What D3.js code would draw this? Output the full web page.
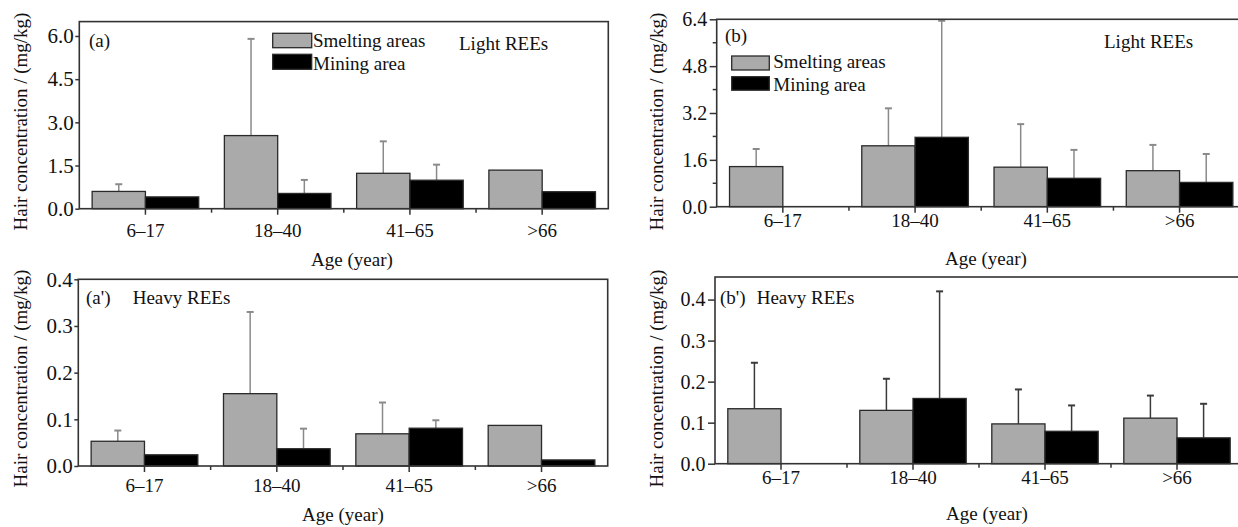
<!DOCTYPE html>
<html>
<head>
<meta charset="utf-8">
<script src="https://cdn.jsdelivr.net/npm/d3@7"></script>
<style>
  html, body { margin: 0; padding: 0; background: #fff; }
  svg { display: block; font-family: "Liberation Serif", "Times New Roman", serif; }
</style>
</head>
<body>
<svg id="chart" width="1238" height="527"></svg>
<script>
// Age groups shared by all four panels
const ageGroups = ["6–17", "18–40", "41–65", ">66"];
const seriesNames = ["Smelting areas", "Mining area"];

// (a) Light REEs, first survey: mean and standard deviation (mg/kg)
const lightSmeltingA = [0.60, 2.54, 1.23, 1.34];
const lightSmeltingASd = [0.25, 3.36, 1.11, null];
const lightMiningA = [0.41, 0.53, 0.99, 0.59];
const lightMiningASd = [null, 0.47, 0.54, null];

// (b) Light REEs, second survey
const lightSmeltingB = [1.37, 2.08, 1.35, 1.23];
const lightSmeltingBSd = [0.60, 1.28, 1.47, 0.88];
const lightMiningB = [null, 2.37, 0.97, 0.83];
const lightMiningBSd = [null, 3.98, 0.97, 0.97];

// (a') Heavy REEs, first survey
const heavySmeltingA = [0.053, 0.155, 0.069, 0.087];
const heavySmeltingASd = [0.023, 0.175, 0.067, null];
const heavyMiningA = [0.024, 0.037, 0.081, 0.013];
const heavyMiningASd = [null, 0.043, 0.017, null];

// (b') Heavy REEs, second survey
const heavySmeltingB = [0.134, 0.130, 0.097, 0.111];
const heavySmeltingBSd = [0.112, 0.077, 0.084, 0.055];
const heavyMiningB = [null, 0.159, 0.079, 0.063];
const heavyMiningBSd = [null, 0.261, 0.063, 0.083];

// Axis tick values
const ticksA = [0, 1.5, 3.0, 4.5, 6.0];
const ticksB = [0, 1.6, 3.2, 4.8, 6.4];
const minorTicksB = [0.8, 2.4, 4.0, 5.6];
const ticksHeavy = [0, 0.1, 0.2, 0.3, 0.4];

const svg = d3.select("#chart");
const FILL = { smelting: "#aaaaaa", mining: "#000000" };

function panel(cfg) {
  const g = svg.append("g");
  const x = d3.scaleBand().domain(ageGroups)
    .range([cfg.left, cfg.right]).paddingInner(0.194).paddingOuter(0.097);
  const xs = d3.scaleBand().domain(["smelting", "mining"]).range([0, x.bandwidth()]);
  const y = d3.scaleLinear().domain(cfg.domain).range([cfg.bottom, cfg.top]);

  const rows = [];
  ageGroups.forEach((a, i) => {
    rows.push({ age: a, key: "smelting", v: cfg.smelting[i], sd: cfg.smeltingSd[i] });
    rows.push({ age: a, key: "mining", v: cfg.mining[i], sd: cfg.miningSd[i] });
  });
  const present = rows.filter(d => d.v != null);

  // error bars (upper half only)
  const eb = g.append("g").attr("stroke", cfg.errColor).attr("stroke-width", 1.5);
  present.filter(d => d.sd != null).forEach(d => {
    const cx = x(d.age) + xs(d.key) + xs.bandwidth() / 2;
    const y1 = y(d.v + d.sd);
    eb.append("line").attr("x1", cx).attr("x2", cx).attr("y1", y(d.v)).attr("y2", y1);
    eb.append("line").attr("x1", cx - 3.5).attr("x2", cx + 3.5).attr("y1", y1).attr("y2", y1)
      .attr("stroke-width", 2);
  });

  // bars
  g.append("g").selectAll("rect").data(present).join("rect")
    .attr("x", d => x(d.age) + xs(d.key))
    .attr("width", xs.bandwidth())
    .attr("y", d => y(d.v))
    .attr("height", d => y(0) - y(d.v))
    .attr("fill", d => FILL[d.key])
    .attr("stroke", "#2a2a2a").attr("stroke-width", 1.3);

  // frame
  g.append("rect")
    .attr("x", cfg.left).attr("y", cfg.top)
    .attr("width", cfg.right - cfg.left).attr("height", cfg.bottom - cfg.top)
    .attr("fill", "none").attr("stroke", "#333").attr("stroke-width", 1.6);

  // y axis
  const ya = g.append("g").attr("transform", `translate(${cfg.left},0)`)
    .call(d3.axisLeft(y).tickValues(cfg.ticks).tickSize(cfg.tickLen)
      .tickPadding(cfg.tickPad).tickFormat(d3.format(".1f")));
  ya.select(".domain").remove();
  ya.selectAll("line").attr("stroke", "#333").attr("stroke-width", 1.5);
  ya.selectAll("text").attr("font-size", cfg.yTickFont).attr("fill", "#111")
    .style("font-family", "Liberation Serif, serif");
  if (cfg.minor) {
    g.append("g").selectAll("line").data(cfg.minor).join("line")
      .attr("x1", cfg.left - 4).attr("x2", cfg.left)
      .attr("y1", d => y(d)).attr("y2", d => y(d))
      .attr("stroke", "#333").attr("stroke-width", 1.5);
  }

  // x axis: major ticks at group centres, minor ticks between groups
  const xa = g.append("g").attr("transform", `translate(0,${cfg.bottom})`)
    .call(d3.axisBottom(x).tickSize(6).tickPadding(0));
  xa.select(".domain").remove();
  xa.selectAll("line").attr("stroke", "#333").attr("stroke-width", 1.5);
  xa.selectAll("text").attr("font-size", 19).attr("fill", "#111")
    .style("font-family", "Liberation Serif, serif")
    .attr("dy", null).attr("y", cfg.xTickBase - cfg.bottom);
  const bounds = ageGroups.slice(1).map(a => x(a) - x.step() * x.paddingInner() / 2);
  g.append("g").selectAll("line").data(bounds).join("line")
    .attr("x1", d => d).attr("x2", d => d)
    .attr("y1", cfg.bottom).attr("y2", cfg.bottom + 4)
    .attr("stroke", "#333").attr("stroke-width", 1.5);

  // axis titles
  g.append("text").attr("x", cfg.xLabel[0]).attr("y", cfg.xLabel[1])
    .attr("text-anchor", "middle").attr("font-size", 19).attr("fill", "#111")
    .text("Age (year)");
  g.append("text")
    .attr("transform", `translate(${cfg.yLabel[0]},${cfg.yLabel[1]}) rotate(-90)`)
    .attr("text-anchor", "middle").attr("font-size", 19).attr("fill", "#111")
    .text("Hair concentration / (mg/kg)");

  // panel tag and element group
  g.append("text").attr("x", cfg.tag[0]).attr("y", cfg.tag[1])
    .attr("font-size", 19).attr("fill", "#111").text(cfg.tagText);
  g.append("text").attr("x", cfg.title[0]).attr("y", cfg.title[1])
    .attr("font-size", 19).attr("fill", "#111").text(cfg.titleText);

  // legend
  if (cfg.legend) {
    const L = cfg.legend;
    ["smelting", "mining"].forEach((k, i) => {
      g.append("rect").attr("x", L.x).attr("y", L.rows[i][0])
        .attr("width", L.w).attr("height", L.rows[i][1])
        .attr("fill", FILL[k]).attr("stroke", "#2a2a2a").attr("stroke-width", 1.3);
      g.append("text").attr("x", L.tx).attr("y", L.base[i])
        .attr("font-size", 19).attr("fill", "#111").text(seriesNames[i]);
    });
  }
}

panel({
  left: 79.3, right: 608.3, top: 21.6, bottom: 208.7, domain: [0, 6.5],
  ticks: ticksA, tickLen: 4, tickPad: 1.5, yTickFont: 21,
  smelting: lightSmeltingA, smeltingSd: lightSmeltingASd,
  mining: lightMiningA, miningSd: lightMiningASd, errColor: "#8a8a8a",
  xTickBase: 237.3, xLabel: [352, 266], yLabel: [26.7, 121.5],
  tag: [89, 46.5], tagText: "(a)", title: [459, 50], titleText: "Light REEs",
  legend: { x: 272.7, w: 39, tx: 313, rows: [[33.3, 14.4], [54.3, 15]], base: [46.7, 70] }
});

panel({
  left: 716.7, right: 1245.7, top: 19.3, bottom: 206.7, domain: [0, 6.4],
  ticks: ticksB, minor: minorTicksB, tickLen: 7, tickPad: 2.5, yTickFont: 20,
  smelting: lightSmeltingB, smeltingSd: lightSmeltingBSd,
  mining: lightMiningB, miningSd: lightMiningBSd, errColor: "#8a8a8a",
  xTickBase: 226.7, xLabel: [986, 265], yLabel: [663.3, 121.5],
  tag: [725, 41.7], tagText: "(b)", title: [1104, 48.3], titleText: "Light REEs",
  legend: { x: 731.7, w: 37.6, tx: 773.3, rows: [[56, 14], [76.7, 13.5]], base: [68.3, 90.7] }
});

panel({
  left: 78.3, right: 607.7, top: 279.3, bottom: 466, domain: [0, 0.4],
  ticks: ticksHeavy, tickLen: 4, tickPad: 1.5, yTickFont: 21,
  smelting: heavySmeltingA, smeltingSd: heavySmeltingASd,
  mining: heavyMiningA, miningSd: heavyMiningASd, errColor: "#8a8a8a",
  xTickBase: 492, xLabel: [343, 521], yLabel: [26.7, 378.5],
  tag: [86, 303.7], tagText: "(a')", title: [132.7, 303.7], titleText: "Heavy REEs"
});

panel({
  left: 715, right: 1243, top: 277, bottom: 463.7, domain: [0, 0.455],
  ticks: ticksHeavy, tickLen: 7, tickPad: 2.5, yTickFont: 20,
  smelting: heavySmeltingB, smeltingSd: heavySmeltingBSd,
  mining: heavyMiningB, miningSd: heavyMiningBSd, errColor: "#3a3a3a",
  xTickBase: 483.7, xLabel: [987, 520], yLabel: [663, 378.5],
  tag: [720, 303.7], tagText: "(b')", title: [756.7, 303.7], titleText: "Heavy REEs"
});
</script>
</body>
</html>
